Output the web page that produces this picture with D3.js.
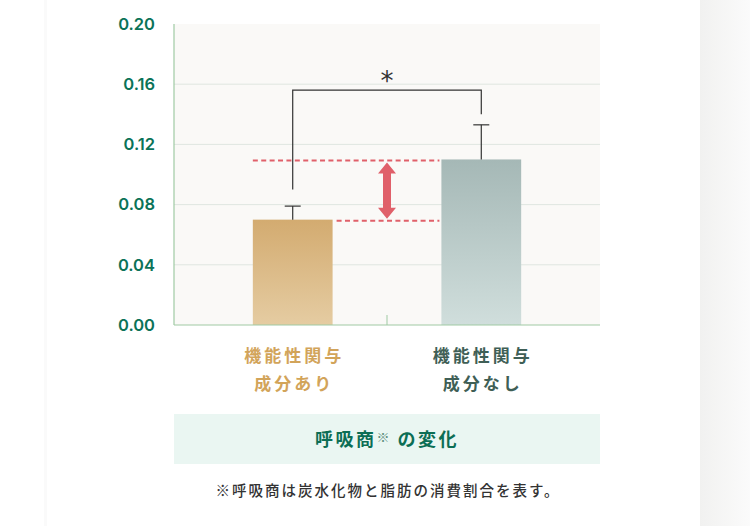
<!DOCTYPE html>
<html lang="ja">
<head>
<meta charset="utf-8">
<script src="https://cdn.jsdelivr.net/npm/d3@7.9.0/dist/d3.min.js"></script>
<style>
  html, body { margin: 0; padding: 0; background: #fff; }
  svg { display: block; }
</style>
</head>
<body>
<svg id="chart" width="750" height="526"></svg>
<script>
// --- data ---
const categories = ['機能性関与\n成分あり', '機能性関与\n成分なし'];
const means = [0.070, 0.110];
const errors = [0.009, 0.023];
const yTicks = [0.00, 0.04, 0.08, 0.12, 0.16, 0.20];
const title = '呼吸商';
const note = '※呼吸商は炭水化物と脂肪の消費割合を表す。';

const barTop = ['#d3ab70', '#a5b8b6'];
const barBottom = ['#e5cca2', '#d0dedc'];
const labelColors = ['#d2a45a', '#3f5f56'];

// --- setup ---
const svg = d3.select('#chart');
const plot = { left: 174, right: 600, top: 24, bottom: 325 };

// page edges
svg.append('rect').attr('x', 44).attr('y', 0).attr('width', 3).attr('height', 526).attr('fill', '#fafafa');
const defs = svg.append('defs');
const edge = defs.append('linearGradient').attr('id', 'edge');
edge.append('stop').attr('offset', '0%').attr('stop-color', '#f1f1f0');
edge.append('stop').attr('offset', '100%').attr('stop-color', '#fbfbfb');
svg.append('rect').attr('x', 700).attr('y', 0).attr('width', 50).attr('height', 526).attr('fill', 'url(#edge)');

const x = d3.scaleBand()
  .domain(categories)
  .range([plot.left, plot.right])
  .paddingInner(0.577)
  .paddingOuter(0.418);

const y = d3.scaleLinear().domain([0, 0.2]).range([plot.bottom, plot.top]);

// plot background
svg.append('rect')
  .attr('x', plot.left).attr('y', plot.top)
  .attr('width', plot.right - plot.left).attr('height', plot.bottom - plot.top)
  .attr('fill', '#faf9f7');

// gridlines
svg.append('g')
  .selectAll('line')
  .data(yTicks.filter(d => d > 0 && d < 0.2))
  .join('line')
  .attr('x1', plot.left).attr('x2', plot.right)
  .attr('y1', d => y(d)).attr('y2', d => y(d))
  .attr('stroke', '#dfe6e0').attr('stroke-width', 1);

// y axis labels
const yAxis = svg.append('g')
  .attr('transform', `translate(${plot.left},0)`)
  .call(d3.axisLeft(y).tickValues(yTicks).tickFormat(d3.format('.2f')).tickSize(0).tickPadding(19));
yAxis.select('.domain').remove();
yAxis.selectAll('text')
  .attr('fill', '#0b7358')
  .attr('font-family', 'Inter, "Noto Sans", sans-serif')
  .attr('font-weight', 600)
  .attr('font-size', 16.5);

// gradients
categories.forEach((c, i) => {
  const g = defs.append('linearGradient').attr('id', 'bar' + i)
    .attr('x1', 0).attr('y1', 0).attr('x2', 0).attr('y2', 1);
  g.append('stop').attr('offset', '0%').attr('stop-color', barTop[i]);
  g.append('stop').attr('offset', '100%').attr('stop-color', barBottom[i]);
});

// bars
svg.append('g')
  .selectAll('rect')
  .data(categories)
  .join('rect')
  .attr('x', d => x(d))
  .attr('y', (d, i) => y(means[i]))
  .attr('width', x.bandwidth())
  .attr('height', (d, i) => y(0) - y(means[i]))
  .attr('fill', (d, i) => `url(#bar${i})`);

// error bars
const cx = d => x(d) + x.bandwidth() / 2;
const eb = svg.append('g').attr('stroke', '#333').attr('stroke-width', 1.2);
categories.forEach((c, i) => {
  eb.append('line').attr('x1', cx(c)).attr('x2', cx(c))
    .attr('y1', y(means[i])).attr('y2', y(means[i] + errors[i]));
  eb.append('line').attr('x1', cx(c) - 8).attr('x2', cx(c) + 8)
    .attr('y1', y(means[i] + errors[i])).attr('y2', y(means[i] + errors[i]));
});

// axes lines
svg.append('line').attr('x1', plot.left).attr('x2', plot.left)
  .attr('y1', plot.top).attr('y2', plot.bottom).attr('stroke', '#9fcaa3').attr('stroke-width', 1.2);
svg.append('line').attr('x1', plot.left).attr('x2', plot.right)
  .attr('y1', plot.bottom).attr('y2', plot.bottom).attr('stroke', '#9fcaa3').attr('stroke-width', 1.2);
const midX = (cx(categories[0]) + cx(categories[1])) / 2;
svg.append('line').attr('x1', midX).attr('x2', midX)
  .attr('y1', plot.bottom - 10).attr('y2', plot.bottom).attr('stroke', '#9fcaa3').attr('stroke-width', 1);

// significance bracket
const bracketY = y(0.156);
svg.append('path')
  .attr('d', `M${cx(categories[0])},${y(0.09)}V${bracketY}H${cx(categories[1])}V${y(0.14)}`)
  .attr('fill', 'none').attr('stroke', '#333').attr('stroke-width', 1.2);
svg.append('text')
  .attr('x', midX).attr('y', bracketY)
  .attr('text-anchor', 'middle')
  .attr('font-family', '"DejaVu Sans", sans-serif')
  .attr('font-size', 26).attr('fill', '#333')
  .text('*');

// difference guide lines
const red = '#e0606a';
svg.append('line')
  .attr('x1', x(categories[0])).attr('x2', x(categories[1]) - 2)
  .attr('y1', y(means[1]) + 1).attr('y2', y(means[1]) + 1)
  .attr('stroke', red).attr('stroke-width', 2).attr('stroke-dasharray', '5,3.4');
svg.append('line')
  .attr('x1', x(categories[0]) + x.bandwidth() + 4).attr('x2', x(categories[1]) - 2)
  .attr('y1', y(means[0]) + 1).attr('y2', y(means[0]) + 1)
  .attr('stroke', red).attr('stroke-width', 2).attr('stroke-dasharray', '5,3.4');

// double arrow
const aTop = y(means[1]) + 3, aBot = y(means[0]) - 1;
svg.append('path')
  .attr('d', `M${midX},${aTop}L${midX + 9},${aTop + 11}H${midX + 4}V${aBot - 11}H${midX + 9}L${midX},${aBot}L${midX - 9},${aBot - 11}H${midX - 4}V${aTop + 11}H${midX - 9}Z`)
  .attr('fill', red);

// category labels
categories.forEach((c, i) => {
  const t = svg.append('text')
    .attr('x', cx(c) + 1.5).attr('y', 362)
    .attr('text-anchor', 'middle')
    .attr('font-family', '"Noto Sans CJK JP", sans-serif')
    .attr('font-weight', 700).attr('font-size', 17)
    .attr('letter-spacing', 3)
    .attr('fill', labelColors[i]);
  c.split('\n').forEach((line, j) => {
    t.append('tspan').attr('x', cx(c) + 1.5).attr('dy', j === 0 ? 0 : 28).text(line);
  });
});

// title box
svg.append('rect').attr('x', plot.left).attr('y', 414)
  .attr('width', plot.right - plot.left).attr('height', 50).attr('fill', '#eaf6f2');
const tt = svg.append('text')
  .attr('x', midX).attr('y', 446)
  .attr('text-anchor', 'middle')
  .attr('font-family', '"Noto Sans CJK JP", sans-serif')
  .attr('font-weight', 700).attr('font-size', 18)
  .attr('letter-spacing', 2.5)
  .attr('fill', '#0c6e55');
tt.append('tspan').text(title);
tt.append('tspan').attr('font-size', 13).attr('font-weight', 400).attr('fill', '#5e8f80').attr('dy', -4).text('※ ');
tt.append('tspan').attr('dy', 4).text('の変化');

// footnote
svg.append('text')
  .attr('x', midX + 1).attr('y', 496)
  .attr('text-anchor', 'middle')
  .attr('font-family', '"Noto Sans CJK JP", sans-serif')
  .attr('font-weight', 500).attr('font-size', 14.5)
  .attr('letter-spacing', 2)
  .attr('fill', '#333')
  .text(note);
</script>
</body>
</html>
